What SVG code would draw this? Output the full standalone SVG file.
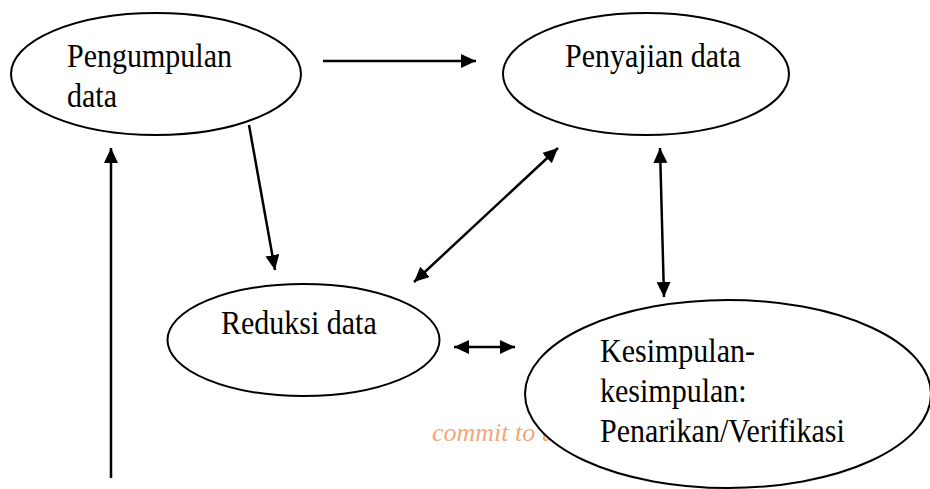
<svg xmlns="http://www.w3.org/2000/svg" width="930" height="489" viewBox="0 0 930 489">
<style>
.node{fill:#fff;stroke:#000;stroke-width:2}
.lbl{font-family:"Liberation Serif","Times New Roman",serif;font-size:30px;fill:#000}
.wm{font-family:"Liberation Serif","Times New Roman",serif;font-style:italic;font-size:26px;fill:#F7A57A}
.con{stroke:#000;stroke-width:2.5;fill:none}
</style>
<defs>
<marker id="ah" markerUnits="userSpaceOnUse" markerWidth="16" markerHeight="15" refX="15" refY="7" orient="auto-start-reverse">
<path d="M0,0 L15,7 L0,14 z" fill="#000"/>
</marker>
</defs>
<rect width="930" height="489" fill="#fff"/>
<g id="n-pengumpulan">
<ellipse class="node" cx="156" cy="74" rx="145" ry="61"/>
<text class="lbl" transform="translate(67,67) scale(1,1.12)">Pengumpulan</text>
<text class="lbl" transform="translate(67,107) scale(1,1.12)">data</text>
</g>
<g id="n-penyajian">
<ellipse class="node" cx="646" cy="74" rx="143" ry="61"/>
<text class="lbl" transform="translate(565,67) scale(1,1.12)">Penyajian data</text>
</g>
<g id="n-reduksi">
<ellipse class="node" cx="303.5" cy="340" rx="136" ry="56"/>
<text class="lbl" transform="translate(221,334) scale(1,1.12)">Reduksi data</text>
</g>
<text class="wm" x="432" y="441">commit to u</text>
<g id="n-kesimpulan">
<ellipse class="node" cx="728" cy="394" rx="203" ry="94"/>
<text class="lbl" transform="translate(600,362) scale(1,1.12)">Kesimpulan-</text>
<text class="lbl" transform="translate(600,402) scale(1,1.12)">kesimpulan:</text>
<text class="lbl" transform="translate(600,442) scale(1,1.12)">Penarikan/Verifikasi</text>
</g>
<g id="connectors">
<line class="con" x1="323" y1="61" x2="476" y2="61" marker-end="url(#ah)"/>
<line class="con" x1="249" y1="125" x2="275" y2="270" marker-end="url(#ah)"/>
<line class="con" x1="414" y1="282" x2="558" y2="148" marker-start="url(#ah)" marker-end="url(#ah)"/>
<line class="con" x1="660" y1="148" x2="664" y2="297" marker-start="url(#ah)" marker-end="url(#ah)"/>
<line class="con" x1="454" y1="347" x2="515" y2="347" marker-start="url(#ah)" marker-end="url(#ah)"/>
<line class="con" x1="111" y1="478" x2="111" y2="148" marker-end="url(#ah)"/>
</g>
</svg>
